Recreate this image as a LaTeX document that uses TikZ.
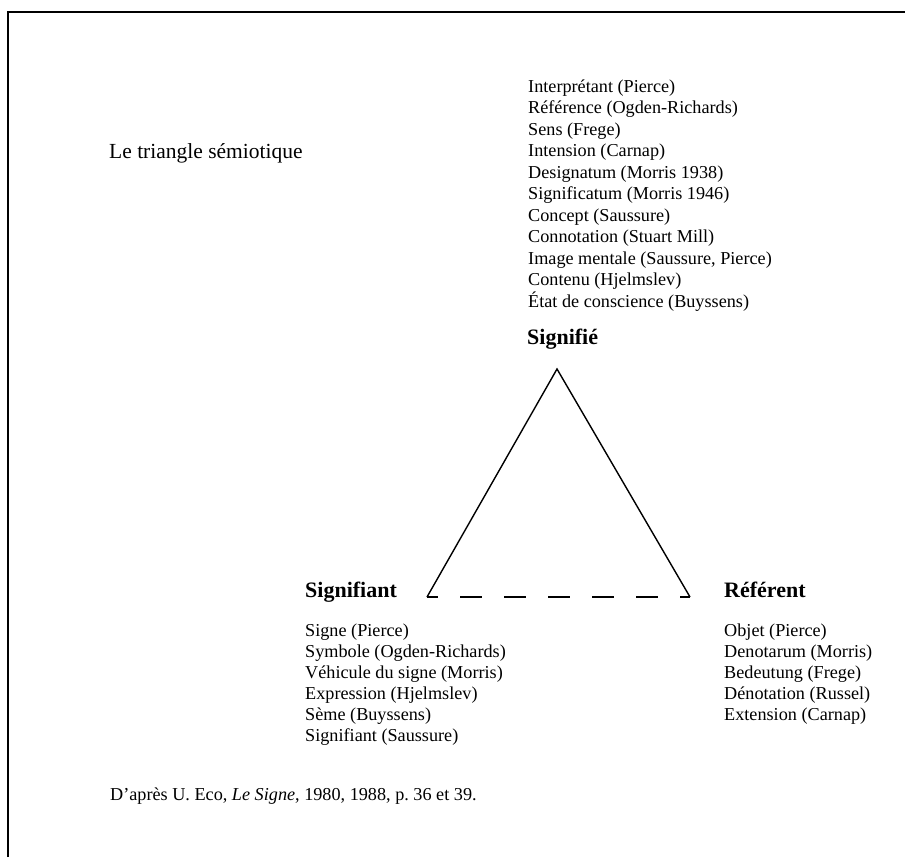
\documentclass[tikz,border=0pt]{standalone}
\usepackage{fontspec}
\setmainfont{Liberation Serif}
\begin{document}
\begin{tikzpicture}[x=1pt,y=-1pt,
  txt/.style={anchor=base west,inner sep=0pt,font=\fontsize{18.2}{21.5}\selectfont},
  ttl/.style={anchor=base west,inner sep=0pt,font=\fontsize{21.5}{24}\selectfont},
  lbl/.style={anchor=base west,inner sep=0pt,font=\fontsize{22}{24}\selectfont\bfseries},
  frame/.style={line width=2pt},
  side/.style={line width=1.4pt},
  base/.style={line width=1.4pt,dash pattern=on 22pt off 22pt,dash phase=11pt}]
\useasboundingbox (0,0) rectangle (905,857);
\draw[frame] (8,857) -- (8,11.5) -- (905,11.5);
\node[ttl] (title) at (109,158) {Le triangle sémiotique};
\foreach [count=\i from 0] \t in {Interprétant (Pierce),Référence (Ogden-Richards),Sens (Frege),Intension (Carnap),Designatum (Morris 1938),Significatum (Morris 1946),Concept (Saussure),Connotation (Stuart Mill),{Image mentale (Saussure, Pierce)},Contenu (Hjelmslev),État de conscience (Buyssens)}
  \node[txt] (sig\i) at (528,{92+21.5*\i}) {\t};
\node[lbl] (signifie) at (527,344) {Signifié};
\node[lbl] (signifiant) at (305,597) {Signifiant};
\node[lbl] (referent) at (724,597) {Référent};
\foreach [count=\i from 0] \t in {Signe (Pierce),Symbole (Ogden-Richards),Véhicule du signe (Morris),Expression (Hjelmslev),Sème (Buyssens),Signifiant (Saussure)}
  \node[txt] (sa\i) at (305,{636+21*\i}) {\t};
\foreach [count=\i from 0] \t in {Objet (Pierce),Denotarum (Morris),Bedeutung (Frege),Dénotation (Russel),Extension (Carnap)}
  \node[txt] (re\i) at (724,{636+21*\i}) {\t};
\node[txt] (source) at (110,800) {D’après U. Eco, \textit{Le Signe}, 1980, 1988, p.~36 et 39.};
\coordinate (apex) at (557,369);
\coordinate (bl) at (427,597);
\coordinate (br) at (690,597);
\draw[side,line join=miter] (bl) -- (apex) -- (br);
\draw[base] (bl) -- (br);
\end{tikzpicture}
\end{document}
